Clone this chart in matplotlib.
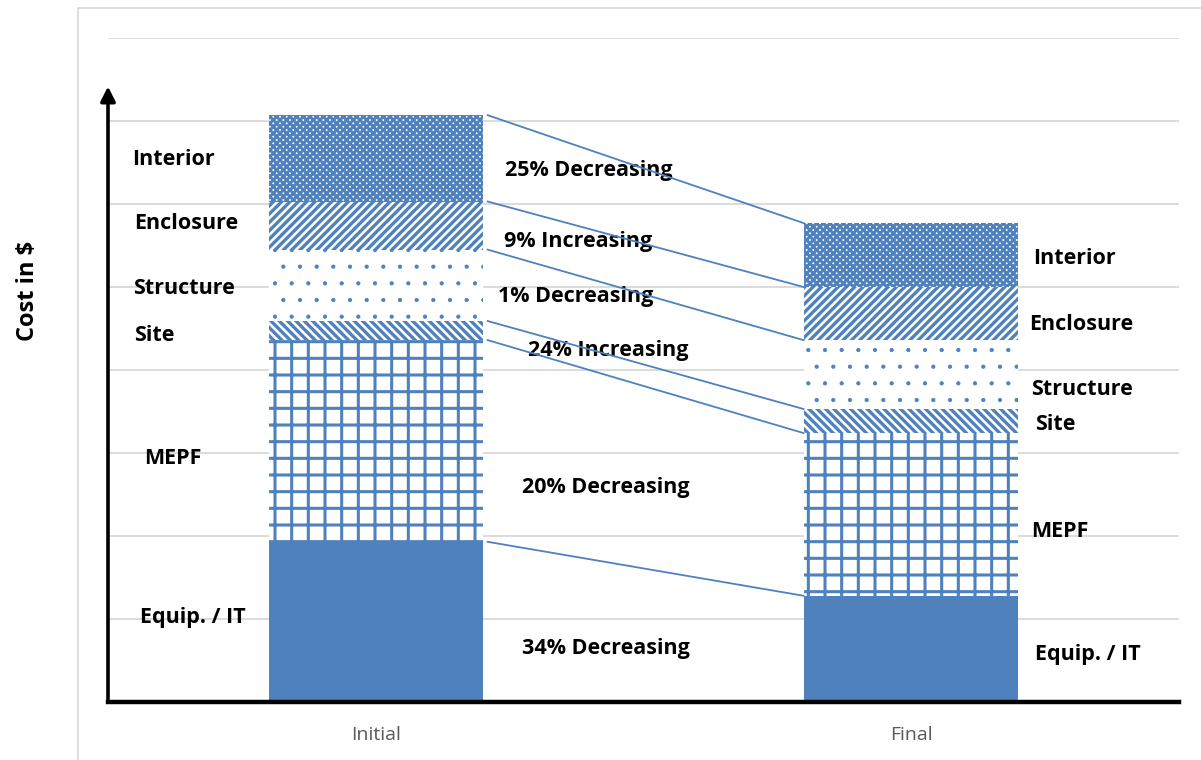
import numpy as np
import matplotlib.pyplot as plt
from matplotlib.lines import Line2D

# cost breakdown, stacked from the bottom up
stages = ['Initial', 'Final']
components = ['Equip. / IT', 'MEPF', 'Site', 'Structure', 'Enclosure', 'Interior']
initial_cost = [1.93, 2.43, 0.23, 0.86, 0.58, 1.04]
final_cost = [1.28, 1.96, 0.29, 0.83, 0.64, 0.77]
change_labels = ['34% Decreasing', '20% Decreasing', '24% Increasing',
                 '1% Decreasing', '9% Increasing', '25% Decreasing']

# fill style for each component
hatches = ['', '+', '\\\\\\\\', '.', '////', 'xxxxx']
hatch_lw = [1.0, 2.2, 2.4, 0.6, 2.4, 2.1]

# label anchors (data coords)
left_pos = [(-0.440, 1.02), (-0.433, 2.93), (-0.451, 4.42),
            (-0.453, 4.98), (-0.451, 5.76), (-0.455, 6.54)]
right_pos = [(1.231, 0.57), (1.224, 2.06), (1.231, 3.34),
             (1.224, 3.77), (1.220, 4.55), (1.228, 5.34)]
mid_pos = [(0.274, 0.64), (0.274, 2.59), (0.284, 4.23),
           (0.229, 4.89), (0.239, 5.55), (0.241, 6.40)]

blue = '#4f81bd'
grid_c = '#d9d9d9'
plt.rcParams['font.family'] = ['Open Sans', 'DejaVu Sans']

W, H = 1201, 760
fig = plt.figure(figsize=(W / 100, H / 100), dpi=100)
ax = fig.add_axes([108 / W, (H - 702) / H, (1179 - 108) / W, (702 - 38) / H])
ax.set_xlim(-0.5, 1.5)
ax.set_ylim(0, 8)

# outer chart frame
fig.add_artist(Line2D([78 / W, 78 / W], [0, 1 - 8 / H], color=grid_c, lw=1.2))
fig.add_artist(Line2D([78 / W, 1], [1 - 8 / H, 1 - 8 / H], color=grid_c, lw=1.2))

for y in range(1, 9):
    ax.axhline(y, color=grid_c, lw=1.3, zorder=0)

width = 0.4
x = np.arange(len(stages))
for stage_x, costs in zip(x, [initial_cost, final_cost]):
    bottom = 0
    for i, c in enumerate(costs):
        with plt.rc_context({'hatch.linewidth': hatch_lw[i]}):
            if hatches[i]:
                b = ax.bar(stage_x, c, width, bottom=bottom, color='white',
                           edgecolor=blue, linewidth=0, hatch=hatches[i], zorder=2)
            else:
                b = ax.bar(stage_x, c, width, bottom=bottom, color=blue,
                           linewidth=0, zorder=2)
            if hasattr(b[0], 'set_hatch_linewidth'):
                b[0].set_hatch_linewidth(hatch_lw[i])
        bottom += c

# connectors between tops of matching segments
tops_init = np.cumsum(initial_cost)
tops_final = np.cumsum(final_cost)
for a, b in zip(tops_init, tops_final):
    ax.plot([width / 2 + 0.009, 1 - width / 2 - 0.001], [a, b], color=blue, lw=1.3, zorder=3)

tkw = dict(fontsize=15.5, fontweight='bold', va='center', ha='left', color='black')
for i, name in enumerate(components):
    ax.text(*left_pos[i], name, **tkw)
    ax.text(*right_pos[i], name, **tkw)
    ax.text(*mid_pos[i], change_labels[i], zorder=2, **tkw)

# axes: thick baseline and arrowed y axis
ax.axhline(0, color='black', lw=3.2, zorder=4, clip_on=False)
ax.annotate('', xy=(-0.5, 7.45), xytext=(-0.5, 0),
            arrowprops=dict(arrowstyle='-|>', lw=2.6, color='black', mutation_scale=22),
            annotation_clip=False, zorder=5)

for s in ax.spines.values():
    s.set_visible(False)
ax.set_yticks([])
ax.set_xticks(x, stages)
ax.tick_params(axis='x', length=0, pad=17, labelsize=14, labelcolor='#595959')

fig.text(28 / W, 1 - 291 / H, 'Cost in $', rotation=90, fontsize=17,
         fontweight='bold', ha='center', va='center')

fig.savefig('out.png', dpi=100)
